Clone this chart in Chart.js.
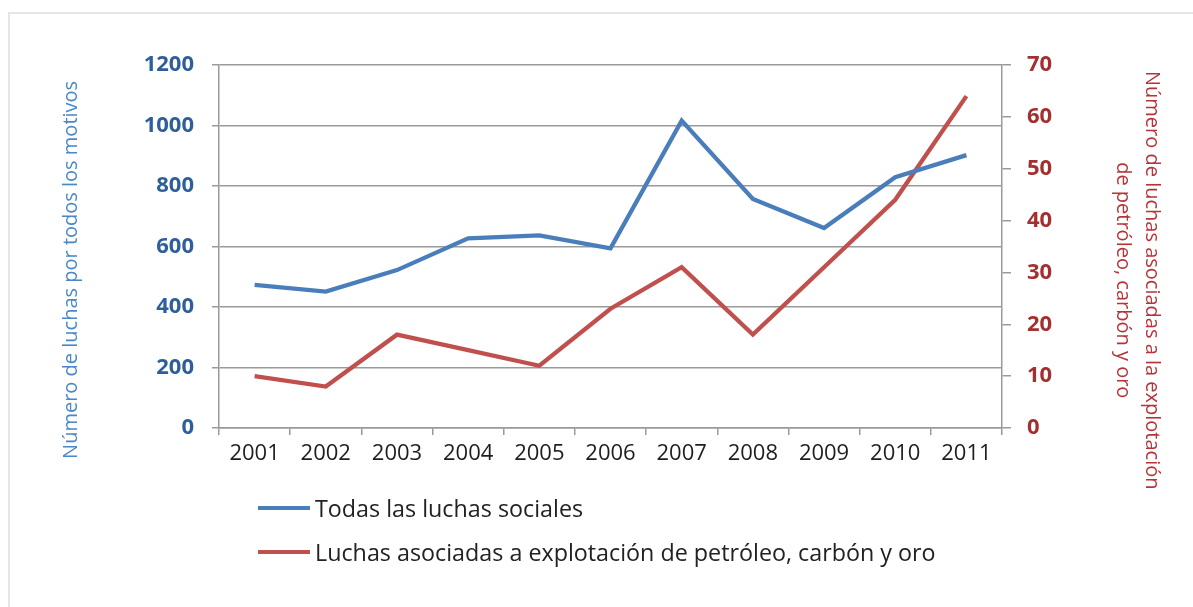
<!DOCTYPE html>
<html><head><meta charset="utf-8">
<script src="https://cdn.jsdelivr.net/npm/chart.js@4"></script>
<style>
html,body{margin:0;padding:0;background:#fff;width:1193px;height:607px;overflow:hidden;font-family:"Open Sans",sans-serif;}
#frame{position:absolute;left:8px;top:12px;width:1300px;height:700px;border:2px solid #e6e6e6;box-sizing:border-box;}
#wrap{position:absolute;left:0;top:0;width:1193px;height:607px;}
#legend{position:absolute;left:258px;top:0;}
.item{position:absolute;left:0;display:flex;align-items:center;white-space:nowrap;font-size:23.3px;color:#222;height:30px;}
.swatch{width:52px;height:4px;margin-right:5px;flex:none;}
</style></head>
<body>
<div id="frame"></div>
<div id="wrap"><canvas id="c" width="1193" height="607"></canvas></div>
<div id="legend"></div>
<script>
const years = ['2001','2002','2003','2004','2005','2006','2007','2008','2009','2010','2011'];
const todasLuchas = [473, 451, 522, 627, 637, 594, 1016, 757, 661, 829, 902];
const luchasExtractivas = [10, 8, 18, 15, 12, 23, 31, 18, 31, 44, 64];
const seriesNames = ['Todas las luchas sociales', 'Luchas asociadas a explotación de petróleo, carbón y oro'];
const seriesColors = ['#4a7ebb', '#c0504d'];
const leftTitle = 'Número de luchas por todos los motivos';
const rightTitle = ['Número de luchas asociadas a la explotación', 'de petróleo, carbón y oro'];

const GRID = '#9a9a9a';
const sp = n => ' '.repeat(n);

const chart = new Chart(document.getElementById('c'), {
  type: 'line',
  data: {
    labels: years,
    datasets: [
      { label: seriesNames[0], data: todasLuchas, borderColor: seriesColors[0], backgroundColor: seriesColors[0],
        borderWidth: 4.3, pointRadius: 0, tension: 0, yAxisID: 'y', borderJoinStyle: 'miter' },
      { label: seriesNames[1], data: luchasExtractivas, borderColor: seriesColors[1], backgroundColor: seriesColors[1],
        borderWidth: 4.3, pointRadius: 0, tension: 0, yAxisID: 'y1', borderJoinStyle: 'miter' }
    ]
  },
  options: {
    responsive: false,
    animation: false,
    layout: { padding: { left: 59, right: 27, top: 65, bottom: 127 } },
    plugins: { legend: { display: false }, tooltip: { enabled: false } },
    scales: {
      x: {
        offset: true,
        grid: { offset: true, drawOnChartArea: false, drawTicks: true, tickLength: 7, color: GRID, lineWidth: 1.5 },
        border: { display: true, color: GRID, width: 1.5 },
        ticks: { color: '#1e1e1e', font: { family: 'Open Sans', size: 22 }, padding: 6, maxRotation: 0 },
        afterFit: s => { s.height = 52; }
      },
      y: {
        position: 'left',
        min: 0, max: 1200,
        ticks: { stepSize: 200, color: '#2f5f9a', font: { family: 'Open Sans', size: 22, weight: 'bold' }, padding: 18,
                 callback: v => String(v) },
        grid: { color: GRID, lineWidth: 1.5, tickLength: 7, drawTicks: true },
        border: { display: true, color: GRID, width: 1.5 },
        title: { display: true, text: leftTitle + sp(9), color: '#4a88c8', padding: 0,
                 font: { family: 'Open Sans', size: 20, lineHeight: 1.2 } },
        afterFit: s => { s.width = 160; }
      },
      y1: {
        position: 'right',
        min: 0, max: 70,
        ticks: { stepSize: 10, color: '#a3302e', font: { family: 'Open Sans', size: 22, weight: 'bold' }, padding: 16,
                 callback: v => String(v) },
        grid: { drawOnChartArea: false, color: GRID, lineWidth: 1.5, tickLength: 9, drawTicks: true },
        border: { display: true, color: GRID, width: 1.5 },
        title: { display: true, text: rightTitle.map(t => sp(13) + t), color: '#b5343a', padding: 0,
                 font: { family: 'Open Sans', size: 20, lineHeight: 1.45 } },
        afterFit: s => { s.width = 164; }
      }
    }
  }
});

// legend built from the chart's datasets
const legend = document.getElementById('legend');
const rowY = [508, 552];
chart.data.datasets.forEach((ds, i) => {
  const item = document.createElement('div');
  item.className = 'item';
  item.style.top = (rowY[i] - 15) + 'px';
  const sw = document.createElement('span');
  sw.className = 'swatch';
  sw.style.background = ds.borderColor;
  const tx = document.createElement('span');
  tx.textContent = ds.label;
  item.appendChild(sw); item.appendChild(tx);
  legend.appendChild(item);
});
</script>
</body></html>
